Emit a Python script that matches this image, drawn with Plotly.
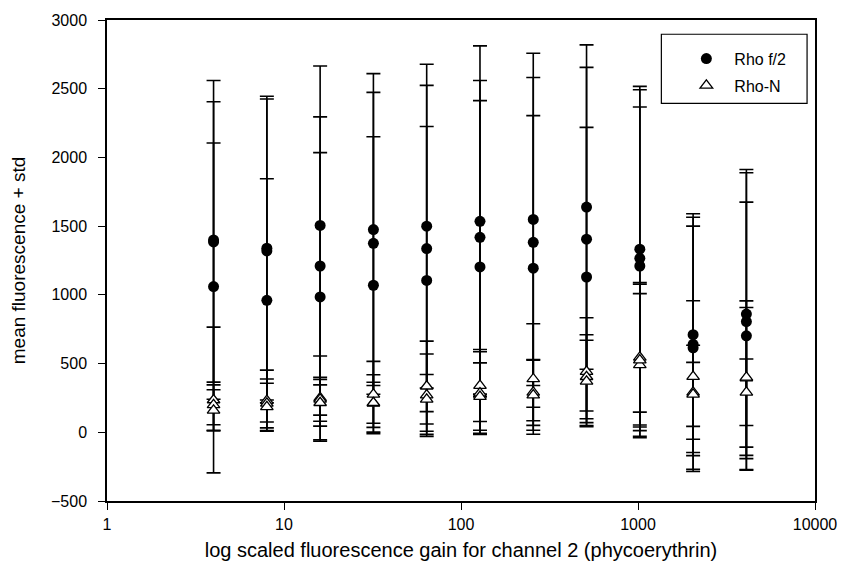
import plotly.graph_objects as go

# gain settings (x), three replicate measurements per gain
gain = [4, 8, 16, 32, 64, 128, 256, 512, 1024, 2048, 4096]

# Rho f/2 : means and standard deviations (3 replicates each gain)
rho_f2_mean = [
    [1400, 1385, 1060],
    [1340, 1320, 960],
    [1505, 1210, 985],
    [1475, 1375, 1070],
    [1500, 1337, 1105],
    [1535, 1419, 1203],
    [1549, 1382, 1194],
    [1639, 1405, 1130],
    [1332, 1266, 1210],
    [710, 640, 615],
    [860, 806, 702],
]
rho_f2_std = [
    [1160, 1020, 1045],
    [1105, 1105, 885],
    [1160, 1085, 1050],
    [1135, 1098, 1080],
    [1178, 1187, 1120],
    [1277, 1141, 1210],
    [1209, 1200, 1110],
    [1180, 1250, 1089],
    [1185, 1227, 1157],
    [880, 925, 885],
    [1052, 1082, 973],
]

# Rho-N : means and standard deviations
rho_n_mean = [
    [235, 200, 160],
    [230, 210, 185],
    [250, 240, 215],
    [276, 210, 215],
    [335, 270, 240],
    [340, 285, 260],
    [388, 290, 270],
    [441, 404, 370],
    [545, 490, 525],
    [405, 291, 276],
    [394, 400, 291],
]
rho_n_std = [
    [530, 145, 150],
    [222, 178, 172],
    [305, 160, 170],
    [240, 209, 149],
    [328, 300, 180],
    [262, 301, 245],
    [402, 240, 255],
    [392, 306, 300],
    [533, 519, 565],
    [552, 342, 233],
    [562, 508, 242],
]

x_ticks = [1, 10, 100, 1000, 10000]
x_ticktext = ["1", "10", "100", "1000", "10000"]
y_ticks = [-500, 0, 500, 1000, 1500, 2000, 2500, 3000]


def flatten(groups):
    xs, vals = [], []
    for g, reps in zip(gain, groups):
        for v in reps:
            xs.append(g)
            vals.append(v)
    return xs, vals


FONT = "Arial, Liberation Sans, sans-serif"

fx, fy = flatten(rho_f2_mean)
_, fs = flatten(rho_f2_std)
nx, ny = flatten(rho_n_mean)
_, ns = flatten(rho_n_std)

fig = go.Figure()
fig.add_trace(go.Scatter(
    x=fx, y=fy, mode="markers", name="Rho f/2", legendgroup="a",
    marker=dict(symbol="circle", size=11, color="black"),
    error_y=dict(type="data", array=fs, visible=True, color="black",
                 thickness=1.6, width=7),
))
fig.add_trace(go.Scatter(
    x=nx, y=ny, mode="markers", name="Rho-N", legendgroup="b",
    marker=dict(symbol="triangle-up", size=11, color="white",
                line=dict(color="black", width=1.3)),
    error_y=dict(type="data", array=ns, visible=True, color="black",
                 thickness=1.6, width=7),
))

# legend frame
fig.add_shape(type="rect", xref="paper", yref="paper",
              x0=0.783, x1=0.9888, y0=0.8267, y1=0.9704,
              line=dict(color="black", width=1.2), fillcolor="rgba(0,0,0,0)")

fig.update_layout(
    width=849, height=577,
    margin=dict(l=107, r=27, t=18, b=76),
    paper_bgcolor="white", plot_bgcolor="white",
    font=dict(family=FONT, size=16, color="black"),
    showlegend=True,
    legend=dict(
        x=0.807, y=0.955, xanchor="left", yanchor="top",
        borderwidth=0, bgcolor="rgba(0,0,0,0)",
        font=dict(family=FONT, size=16),
        itemwidth=46, tracegroupgap=3,
    ),
    xaxis=dict(
        type="log", range=[0, 4],
        tickvals=x_ticks, ticktext=x_ticktext,
        tickfont=dict(family=FONT, size=16),
        showline=True, linecolor="black", linewidth=1.5, mirror=True,
        ticks="outside", ticklen=7, tickwidth=1.2, tickcolor="black",
        ticklabelstandoff=1,
        showgrid=False, zeroline=False,
        title=dict(text="log scaled fluorescence gain for channel 2 (phycoerythrin)",
                   font=dict(family=FONT, size=20), standoff=11),
    ),
    yaxis=dict(
        range=[-500, 3000],
        tickvals=y_ticks,
        tickfont=dict(family=FONT, size=16),
        showline=True, linecolor="black", linewidth=1.5, mirror=True,
        ticks="outside", ticklen=7, tickwidth=1.2, tickcolor="black",
        ticklabelstandoff=8,
        showgrid=False, zeroline=False,
        title=dict(text="mean fluorescence + std",
                   font=dict(family=FONT, size=19), standoff=20),
    ),
)

fig.write_html("out.html")
